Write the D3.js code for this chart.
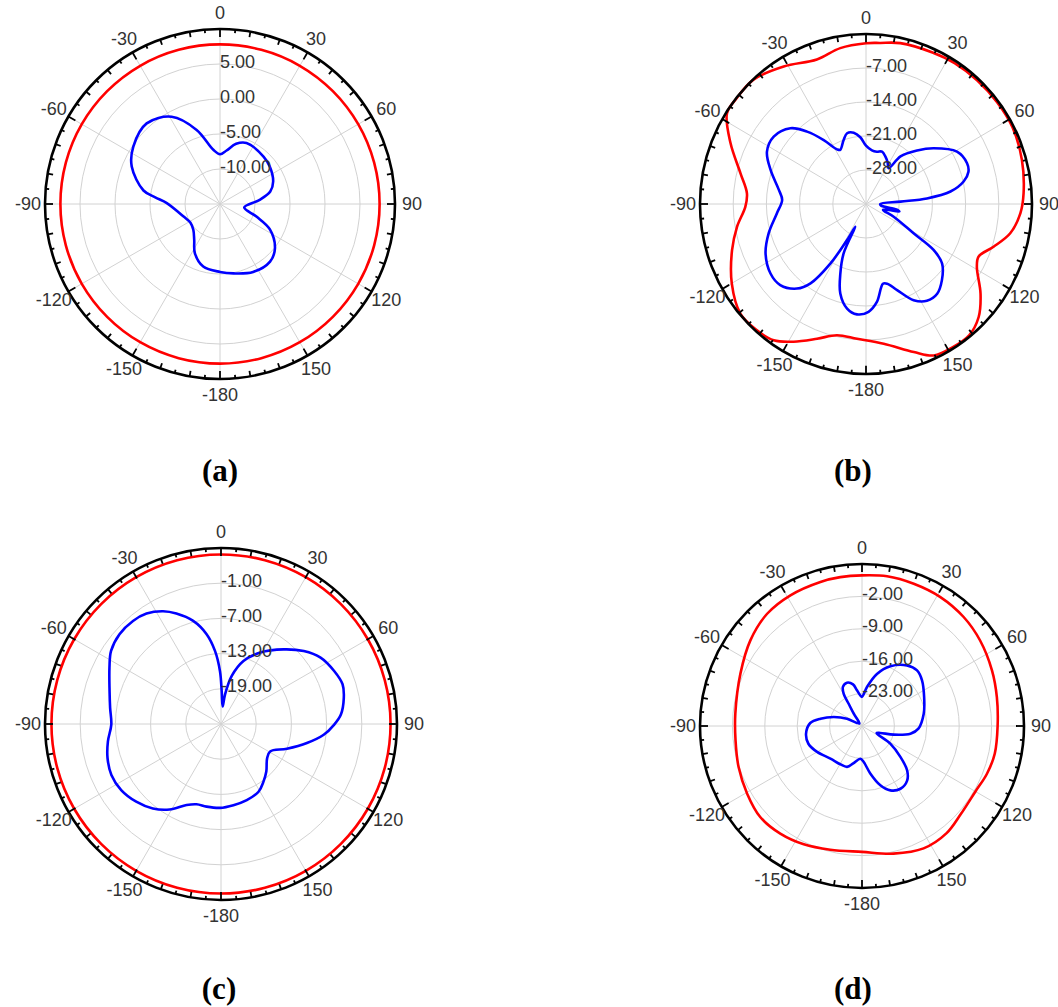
<!DOCTYPE html>
<html>
<head>
<meta charset="utf-8">
<script src="https://cdn.jsdelivr.net/npm/d3@7"></script>
<style>
  body { margin: 0; background: #fff; }
  svg { display: block; }
</style>
</head>
<body>
<div id="chart"></div>
<script>
// angle labels round every plot
const angleTicks = [0, 30, 60, 90, 120, 150, 180, 210, 240, 270, 300, 330];
const angleTickLabels = ['0', '30', '60', '90', '120', '150', '-180', '-150', '-120', '-90', '-60', '-30'];

// (a)
const ringsA = [-10, -5, 0, 5];
const blueAnglesA = [0, 7, 15, 23.5, 42.5, 53, 67, 76, 84, 98, 109, 117, 129, 139, 154, 169, 180, 195, 207, 215.8, 226, 238, 251, 271, 275.9, 280, 293, 303.5, 317.7, 331, 342.5, 353];
const blueGainA = [-7.9, -7.3, -6.1, -5.5, -5.8, -6.1, -6.75, -7.6, -9.3, -11.5, -9.5, -7.0, -4.9, -4.1, -4.2, -4.9, -5.3, -5.75, -7.1, -8.7, -9.7, -10.0, -9.5, -7.4, -5.7, -3.9, -1.3, -0.15, 0.57, -0.75, -3.9, -7.2];
const redAnglesA = [0, 15, 30, 45, 60, 75, 90, 105, 120, 135, 150, 165, 180, 195, 210, 225, 240, 255, 270, 285, 300, 315, 330, 345];
const redGainA = [7.8, 7.8, 7.8, 7.8, 7.8, 7.8, 7.8, 7.8, 7.8, 7.8, 7.8, 7.8, 7.8, 7.8, 7.8, 7.8, 7.8, 7.8, 7.8, 7.8, 7.8, 7.8, 7.8, 7.8];

// (b)
const ringsB = [-28, -21, -14, -7];
const blueAnglesB = [0, 6.5, 12, 17.4, 22.6, 28, 33, 36.6, 44.4, 51.2, 60.7, 68.5, 72.9, 77.3, 81.8, 84.9, 86.1, 90, 96, 100, 102.5, 105, 109, 114.2, 121, 123.6, 127.4, 134.4, 140.9, 147.2, 153.1, 159.7, 164.8, 167.7, 173.5, 178.6, 184.8, 190.5, 196.4, 200.7, 204.9, 205.6, 208.3, 211.5, 215.6, 219.9, 227.3, 234.6, 244.3, 253.6, 264.1, 272.7, 279, 289.2, 297.3, 305.5, 314.4, 320.2, 325.9, 331.5, 334, 340.3, 344.7, 350, 355];
const blueGainB = [-23.0, -23.9, -24.0, -23.7, -24.4, -25.3, -26.2, -22.8, -19.6, -16.7, -13.0, -12.1, -12.4, -13.9, -17.0, -22.1, -27.7, -32.0, -31.8, -28.5, -27.8, -30.5, -31.2, -28.6, -23.3, -17.9, -14.8, -12.6, -11.2, -11.3, -12.8, -16.1, -18.0, -18.2, -14.7, -12.8, -12.2, -13.1, -15.8, -19.7, -23.8, -29.8, -26.6, -20.6, -14.9, -12.3, -10.4, -10.3, -11.5, -13.6, -16.1, -17.3, -16.4, -13.7, -11.5, -11.1, -12.7, -15.6, -19.1, -22.2, -22.6, -21.0, -19.9, -20.1, -21.2];
const redAnglesB = [0, 5.2, 12.3, 24.2, 32.8, 42.6, 52.8, 62.9, 74.6, 86.2, 93.4, 101.2, 108.1, 114.5, 118.9, 127.4, 134.4, 141.2, 148.2, 155.4, 161.7, 172.6, 183.9, 192.8, 200.4, 208.3, 214.7, 221.5, 229.6, 239.9, 251.4, 260.2, 268.7, 275, 283.4, 293.7, 302.5, 308.5, 317.2, 328.5, 340.8, 350.4];
const redGainB = [-1.9, -1.7, -1.1, -0.8, -0.5, -0.4, -0.3, -0.3, -0.9, -1.7, -2.4, -4.0, -6.7, -8.9, -8.3, -4.6, -1.75, -0.3, -0.3, -0.7, -2.9, -6.0, -7.2, -7.3, -5.4, -2.8, -0.85, -0.3, -0.2, -2.3, -5.2, -7.4, -9.55, -9.8, -7.8, -3.8, -0.25, -0.1, -0.1, -1.8, -3.5, -2.45];

// (c)
const ringsC = [-19, -13, -7, -1];
const blueAnglesC = [1.2, 5.4, 7.8, 12.6, 19.6, 28.8, 40, 48.6, 56.3, 64.9, 71.9, 78, 85.5, 90.3, 96, 102.5, 110.6, 119.2, 126.7, 136.4, 143.6, 151, 161.3, 171.3, 180.7, 189.9, 196.9, 203, 211, 218.9, 227.5, 236.5, 245.1, 253.2, 261.3, 269.7, 278.3, 286.4, 296.8, 303.6, 311.5, 319.5, 326, 332.8, 338, 344.9, 350.9, 355.3, 358.9];
const blueGainC = [-19.4, -22.0, -19.9, -16.6, -13.6, -11.1, -8.4, -6.2, -4.6, -3.7, -3.2, -3.6, -4.5, -5.7, -7.4, -10.0, -13.0, -15.4, -15.2, -13.8, -12.8, -11.8, -11.3, -11.0, -10.7, -10.7, -10.7, -10.0, -8.0, -6.5, -5.4, -4.6, -4.4, -4.8, -5.5, -6.3, -5.9, -5.2, -3.7, -2.5, -1.9, -1.9, -2.3, -3.4, -4.7, -6.8, -9.5, -12.5, -16.0];
const redAnglesC = [0, 15, 30, 45, 60, 75, 90, 105, 120, 135, 150, 165, 180, 195, 210, 225, 240, 255, 270, 285, 300, 315, 330, 345];
const redGainC = [3.9, 3.9, 3.9, 3.9, 3.9, 3.9, 3.9, 3.9, 3.9, 3.9, 3.9, 3.9, 3.9, 3.9, 3.9, 3.9, 3.9, 3.9, 3.9, 3.9, 3.9, 3.9, 3.9, 3.9];

// (d)
const ringsD = [-23, -16, -9, -2];
const blueAnglesD = [0, 7.3, 16, 25.4, 36.6, 44.7, 52.7, 65.1, 78.7, 92.7, 99, 105.3, 110.9, 116, 122, 128.9, 134.6, 140.4, 148.5, 156.2, 162.8, 170.1, 177.3, 182.9, 192.7, 200.1, 209.5, 224.1, 240, 251.7, 262.2, 273.3, 280, 287.6, 296, 301, 315, 326, 329, 330.4, 334, 340.8, 347.8, 352, 356.9];
const blueGainD = [-23.7, -21.5, -18.3, -15.7, -13.7, -13.1, -13.7, -15.2, -16.4, -17.8, -19.4, -22.9, -25.8, -26.5, -22.8, -19.3, -16.3, -14.7, -14.1, -14.8, -16.6, -19.6, -22.2, -22.9, -21.8, -20.6, -20.5, -20.2, -18.8, -17.8, -17.8, -18.8, -20.9, -23.6, -26.4, -28.7, -29.2, -26.8, -24.4, -22.0, -20.6, -20.1, -20.8, -22.2, -23.4];
const redAnglesD = [0, 9.5, 20, 31.3, 43, 54.1, 66.8, 77.9, 90, 101.7, 110.9, 120, 131.7, 141.7, 153.3, 166.1, 180, 194.4, 206.2, 217.2, 228.2, 239.5, 251.6, 263.5, 275.6, 293.3, 307.5, 319.8, 331.3, 343.9, 351.7];
const redGainD = [2.55, 2.8, 2.7, 2.6, 2.2, 1.5, 0.55, -0.2, -0.7, -0.7, -1.1, -1.7, -1.4, -0.5, -0.4, -1.6, -2.8, -2.4, -1.5, -0.8, -0.5, -1.2, -1.9, -2.5, -2.5, -1.4, 0.4, 1.75, 2.2, 2.4, 2.5];

const width = 1058, height = 1007;

const svg = d3.select('#chart').append('svg')
    .attr('width', width)
    .attr('height', height);

svg.append('rect').attr('width', width).attr('height', height).attr('fill', '#fff');

const toRad = Math.PI / 180;

function zip(angles, gains) {
    return angles.map((a, i) => ({a: a, v: gains[i]}));
}

function tickLen(d) {
    return d % 30 === 0 ? 8 : (d % 10 === 0 ? 5.5 : 3.5);
}

function drawPolar(p) {
    const g = svg.append('g').attr('transform', `translate(${p.cx},${p.cy})`);
    const r = d3.scaleLinear().domain(p.domain).range([0, p.R]);

    // data-space group, squashed a little where the source is not round
    const plot = g.append('g').attr('transform', `scale(1,${p.ky})`);

    // grid rings
    plot.selectAll('.ring')
        .data(p.rings)
        .enter().append('circle')
        .attr('class', 'ring')
        .attr('r', d => r(d))
        .attr('fill', 'none')
        .attr('stroke', '#d2d2d2')
        .attr('stroke-width', 1)
        .attr('vector-effect', 'non-scaling-stroke');

    // spokes
    plot.selectAll('.spoke')
        .data(angleTicks)
        .enter().append('line')
        .attr('class', 'spoke')
        .attr('x1', 0).attr('y1', 0)
        .attr('x2', d => p.R * Math.sin(d * toRad))
        .attr('y2', d => -p.R * Math.cos(d * toRad))
        .attr('stroke', '#d2d2d2')
        .attr('stroke-width', 1)
        .attr('vector-effect', 'non-scaling-stroke');

    // radial labels
    g.selectAll('.rlabel')
        .data(p.rings)
        .enter().append('text')
        .attr('class', 'rlabel')
        .attr('x', 0)
        .attr('y', d => -r(d) * p.ky - 2.5)
        .attr('dominant-baseline', 'central')
        .attr('font-family', '"Liberation Sans", Arial, sans-serif')
        .attr('font-size', 18)
        .attr('fill', '#333')
        .text(d => d.toFixed(2));

    const line = d3.lineRadial()
        .angle(d => d.a * toRad)
        .radius(d => r(d.v))
        .curve(d3.curveCatmullRomClosed.alpha(0.5));

    plot.append('path')
        .datum(zip(p.redAngles, p.redGain))
        .attr('d', line)
        .attr('fill', 'none')
        .attr('stroke', '#ff0000')
        .attr('stroke-width', 2.6)
        .attr('vector-effect', 'non-scaling-stroke');

    plot.append('path')
        .datum(zip(p.blueAngles, p.blueGain))
        .attr('d', line)
        .attr('fill', 'none')
        .attr('stroke', '#0000ff')
        .attr('stroke-width', 2.6)
        .attr('stroke-linejoin', 'round')
        .attr('vector-effect', 'non-scaling-stroke');

    // outer frame
    plot.append('circle')
        .attr('r', p.R)
        .attr('fill', 'none')
        .attr('stroke', '#000')
        .attr('stroke-width', 2.6)
        .attr('vector-effect', 'non-scaling-stroke');

    plot.selectAll('.tick')
        .data(d3.range(0, 360, 5))
        .enter().append('line')
        .attr('class', 'tick')
        .attr('x1', d => p.R * Math.sin(d * toRad))
        .attr('y1', d => -p.R * Math.cos(d * toRad))
        .attr('x2', d => (p.R - tickLen(d)) * Math.sin(d * toRad))
        .attr('y2', d => -(p.R - tickLen(d)) * Math.cos(d * toRad))
        .attr('stroke', '#000')
        .attr('stroke-width', 1.8)
        .attr('vector-effect', 'non-scaling-stroke');

    // angle labels
    g.selectAll('.alabel')
        .data(angleTicks)
        .enter().append('text')
        .attr('class', 'alabel')
        .attr('x', d => (p.R + 17) * Math.sin(d * toRad))
        .attr('y', d => -(p.R + 16) * p.ky * Math.cos(d * toRad))
        .attr('text-anchor', 'middle')
        .attr('dominant-baseline', 'central')
        .attr('font-family', '"Liberation Sans", Arial, sans-serif')
        .attr('font-size', 18)
        .attr('fill', '#333')
        .text((d, i) => angleTickLabels[i]);

    svg.append('text')
        .attr('x', p.capX)
        .attr('y', p.capY)
        .attr('text-anchor', 'middle')
        .attr('font-family', '"Liberation Serif", "Times New Roman", serif')
        .attr('font-weight', 'bold')
        .attr('font-size', 31)
        .attr('fill', '#000')
        .text(p.caption);
}

drawPolar({cx: 220, cy: 204, R: 175, ky: 1, domain: [-15, 10], rings: ringsA,
    blueAngles: blueAnglesA, blueGain: blueGainA, redAngles: redAnglesA, redGain: redGainA,
    caption: '(a)', capX: 220, capY: 481});
drawPolar({cx: 866, cy: 204, R: 166, ky: 1.024, domain: [-35, 0], rings: ringsB,
    blueAngles: blueAnglesB, blueGain: blueGainB, redAngles: redAnglesB, redGain: redGainB,
    caption: '(b)', capX: 853, capY: 481});
drawPolar({cx: 221, cy: 724, R: 176, ky: 1, domain: [-25, 5], rings: ringsC,
    blueAngles: blueAnglesC, blueGain: blueGainC, redAngles: redAnglesC, redGain: redGainC,
    caption: '(c)', capX: 219, capY: 999});
drawPolar({cx: 862, cy: 726, R: 162, ky: 1, domain: [-30, 5], rings: ringsD,
    blueAngles: blueAnglesD, blueGain: blueGainD, redAngles: redAnglesD, redGain: redGainD,
    caption: '(d)', capX: 853, capY: 999});
</script>
</body>
</html>
